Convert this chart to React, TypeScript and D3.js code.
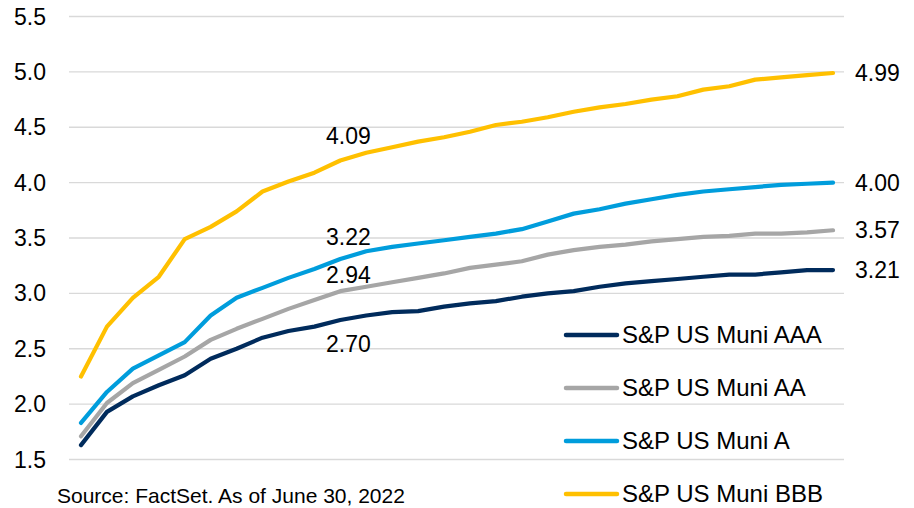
import React, { useEffect, useRef } from 'react';
import * as d3 from 'd3';

// maturities 1..30 years
const maturities = d3.range(1, 31);

const aaa = [1.63, 1.93, 2.07, 2.17, 2.26, 2.41, 2.50, 2.60, 2.66, 2.70, 2.76, 2.80, 2.83, 2.84, 2.88, 2.91, 2.93, 2.97, 3.00, 3.02, 3.06, 3.09, 3.11, 3.13, 3.15, 3.17, 3.17, 3.19, 3.21, 3.21];
const aa = [1.71, 2.01, 2.19, 2.31, 2.43, 2.58, 2.68, 2.77, 2.86, 2.94, 3.02, 3.06, 3.10, 3.14, 3.18, 3.23, 3.26, 3.29, 3.35, 3.39, 3.42, 3.44, 3.47, 3.49, 3.51, 3.52, 3.54, 3.54, 3.55, 3.57];
const singleA = [1.83, 2.11, 2.32, 2.44, 2.56, 2.80, 2.96, 3.05, 3.14, 3.22, 3.31, 3.38, 3.42, 3.45, 3.48, 3.51, 3.54, 3.58, 3.65, 3.72, 3.76, 3.81, 3.85, 3.89, 3.92, 3.94, 3.96, 3.98, 3.99, 4.00];
const bbb = [2.25, 2.70, 2.96, 3.15, 3.49, 3.60, 3.74, 3.92, 4.01, 4.09, 4.20, 4.27, 4.32, 4.37, 4.41, 4.46, 4.52, 4.55, 4.59, 4.64, 4.68, 4.71, 4.75, 4.78, 4.84, 4.87, 4.93, 4.95, 4.97, 4.99];

const yTicks = [1.5, 2.0, 2.5, 3.0, 3.5, 4.0, 4.5, 5.0, 5.5];

const seriesNames = ['S&P US Muni AAA', 'S&P US Muni AA', 'S&P US Muni A', 'S&P US Muni BBB'];
const seriesColors = ['#002B5C', '#A6A6A6', '#009DDC', '#FFC000'];
const seriesValues = [aaa, aa, singleA, bbb];

// 10-year callouts (label offset in px relative to the point)
const callouts = [
  { s: 3, dy: -37 },
  { s: 2, dy: -32 },
  { s: 1, dy: -25 },
  { s: 0, dy: 17 },
];

const sourceNote = 'Source: FactSet. As of June 30, 2022';

export default function App() {
  const svgRef = useRef<SVGSVGElement>(null);

  useEffect(() => {
    const width = 914, height = 508;
    const svg = d3.select(svgRef.current).attr('width', width).attr('height', height);
    svg.selectAll('*').remove();
    const font = 'Liberation Sans, Arial, sans-serif';

    const x = d3.scaleLinear().domain([1, 30]).range([81, 833]);
    const y = d3.scaleLinear().domain([1.5, 5.5]).range([459.5, 16.5]);

    // grid
    svg.append('g').selectAll('line').data(yTicks).enter().append('line')
      .attr('x1', 69).attr('x2', 844)
      .attr('y1', d => y(d)).attr('y2', d => y(d))
      .attr('stroke', '#D9D9D9').attr('stroke-width', 1.3);

    // y labels
    svg.append('g').selectAll('text').data(yTicks).enter().append('text')
      .attr('x', 46).attr('y', d => y(d)).attr('dy', '0.35em')
      .attr('text-anchor', 'end')
      .style('font-family', font).style('font-size', '23px').style('fill', '#000')
      .text(d => d.toFixed(1));

    const line = d3.line<number>().x((d, i) => x(maturities[i])).y(d => y(d));

    seriesValues.forEach((vals, si) => {
      svg.append('path').datum(vals)
        .attr('d', line)
        .attr('fill', 'none')
        .attr('stroke', seriesColors[si])
        .attr('stroke-width', 4.2)
        .attr('stroke-linejoin', 'round')
        .attr('stroke-linecap', 'round');

      // end labels
      const last = vals[vals.length - 1];
      svg.append('text')
        .attr('x', 855).attr('y', y(last)).attr('dy', '0.35em')
        .style('font-family', font).style('font-size', '23px').style('fill', '#000')
        .text(last.toFixed(2));
    });

    // 10-year labels
    callouts.forEach(c => {
      const v = seriesValues[c.s][9];
      svg.append('text')
        .attr('x', x(10) + 34).attr('y', y(v) + c.dy).attr('dy', '0.35em')
        .attr('text-anchor', 'middle')
        .style('font-family', font).style('font-size', '23px').style('fill', '#000')
        .text(v.toFixed(2));
    });

    // legend
    const legend = svg.append('g');
    seriesNames.forEach((name, i) => {
      const ly = 335 + i * 53;
      legend.append('line')
        .attr('x1', 566).attr('x2', 617).attr('y1', ly).attr('y2', ly)
        .attr('stroke', seriesColors[i]).attr('stroke-width', 4.5).attr('stroke-linecap', 'round');
      legend.append('text')
        .attr('x', 622).attr('y', ly).attr('dy', '0.35em')
        .style('font-family', font).style('font-size', '24px').style('fill', '#000')
        .text(name);
    });

    // source note
    svg.append('text')
      .attr('x', 57).attr('y', 503)
      .style('font-family', font).style('font-size', '21px').style('fill', '#000')
      .text(sourceNote);
  }, []);

  return (
    <div style={{ position: 'absolute', left: 0, top: 0, width: 914, height: 508, overflow: 'hidden', background: '#fff' }}>
      <svg ref={svgRef} style={{ display: 'block' }}></svg>
    </div>
  );
}
